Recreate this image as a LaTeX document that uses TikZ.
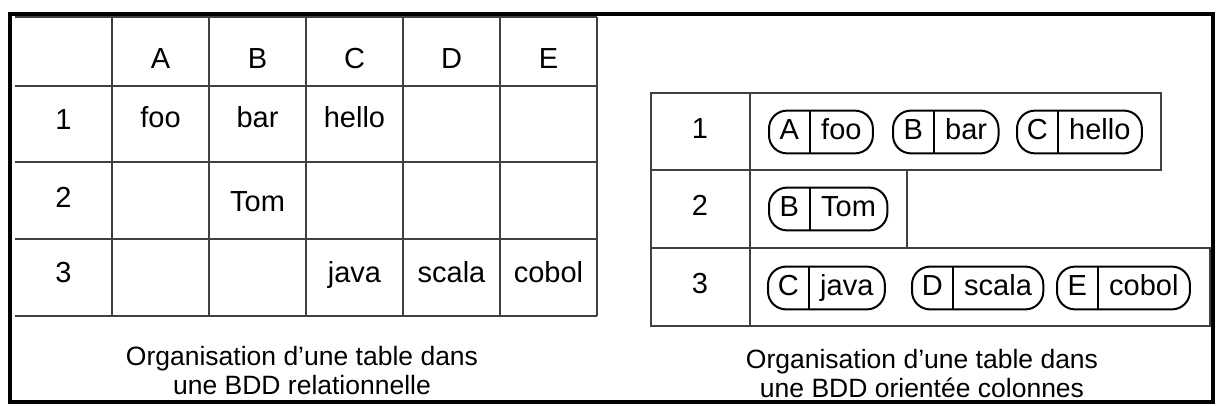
\documentclass[tikz,border=0pt]{standalone}
\usepackage{fontspec}
\setmainfont{Liberation Sans}
\usetikzlibrary{positioning}

\tikzset{
  trait/.style={draw=black!75, line width=0.6pt},
  bord/.style={draw=black, line width=1pt},
  texte/.style={font=\fontsize{14.5}{17}\selectfont, inner sep=0pt, text height=10.5pt, text depth=3pt},
  cle/.style={texte, minimum width=20pt, minimum height=21pt},
  valeur/.style={texte, minimum height=21pt, inner xsep=5.5pt},
  legende/.style={font=\fontsize{13.25}{14.5}\selectfont, align=center, inner sep=0pt}
}

% une capsule colonne|valeur
\newcommand{\capsule}[5]{%
  \node[cle, anchor=west] (#1k) at (#2,#3) {#4};
  \node[valeur, right=0pt of #1k] (#1v) {#5};
  \draw[bord, rounded corners=9pt] (#1k.north west) rectangle (#1v.south east);
  \draw[bord] (#1k.north east) -- (#1k.south east);
}

\begin{document}
\begin{tikzpicture}[x=0.5pt, y=-0.5pt]
  \useasboundingbox (0,0) rectangle (1216,406);
  \fill[white] (0,0) rectangle (1216,406);
  % cadre
  \draw[line width=2pt] (10,14) rectangle (1213,402);

  % tableau relationnel
  \foreach \y in {17, 86, 162, 239, 316}
    \draw[trait] (15,\y) -- (597,\y);
  \foreach \x in {112, 209, 306, 403, 500, 597}
    \draw[trait] (\x,17) -- (\x,316);
  \foreach \c [count=\i] in {A, B, C, D, E}
    \node[texte] (h\c) at (63.5+\i*97,61) {\c};
  \foreach \r/\y in {1/122, 2/200, 3/275}
    \node[texte] (r\r) at (63.5,\y) {\r};
  \node[texte] (c1A) at (160.5,120) {foo};
  \node[texte] (c1B) at (257.5,120) {bar};
  \node[texte] (c1C) at (354.5,120) {hello};
  \node[texte] (c2B) at (257.5,204) {Tom};
  \node[texte] (c3C) at (354.5,275) {java};
  \node[texte] (c3D) at (451.5,275) {scala};
  \node[texte] (c3E) at (548.5,275) {cobol};
  \node[legende] (lgauche) at (302,371) {Organisation d'une table dans\\une BDD relationnelle};

  % tableau orienté colonnes
  \draw[trait] (651,93) rectangle (1161,170);
  \draw[trait] (651,170) rectangle (907,248);
  \draw[trait] (651,248) rectangle (1210,326);
  \draw[trait] (750,93) -- (750,326);
  \foreach \r/\y in {1/131, 2/208, 3/286}
    \node[texte] (l\r) at (700,\y) {\r};
  \capsule{p1a}{769}{132}{A}{foo}
  \capsule{p1b}{893}{132}{B}{bar}
  \capsule{p1c}{1017}{132}{C}{hello}
  \capsule{p2b}{769}{209}{B}{Tom}
  \capsule{p3c}{768}{288}{C}{java}
  \capsule{p3d}{912}{288}{D}{scala}
  \capsule{p3e}{1057}{288}{E}{cobol}
  \node[legende] (ldroite) at (922,374) {Organisation d'une table dans\\une BDD orientée colonnes};
\end{tikzpicture}
\end{document}
